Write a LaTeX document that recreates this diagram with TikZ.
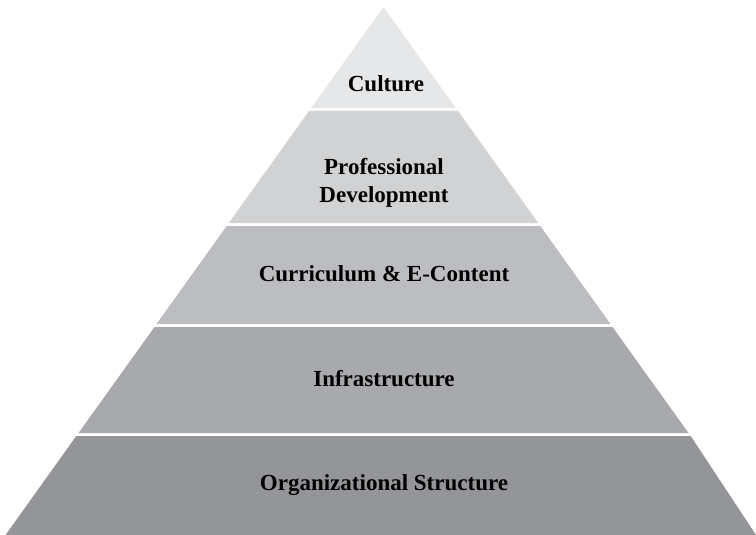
\documentclass[tikz,border=0pt]{standalone}
\usepackage{fontspec}
\setmainfont{Liberation Serif}
\definecolor{c1}{HTML}{E6E7E8}
\definecolor{c2}{HTML}{D1D2D4}
\definecolor{c3}{HTML}{BCBDC0}
\definecolor{c4}{HTML}{A7A9AC}
\definecolor{c5}{HTML}{939598}
\tikzset{
  layer/.style={draw=none},
  lbl/.style={font=\bfseries\fontsize{23}{28}\selectfont, text=black, align=center, inner sep=0pt}
}
\begin{document}
\begin{tikzpicture}[x=1pt,y=-1pt]
\useasboundingbox (0,0) rectangle (756,535);
\fill[layer, c1] (383.5,7) -- (455.8,108) -- (311.2,108) -- cycle;
\fill[layer, c2] (309,111) -- (458,111) -- (538.2,223) -- (228.8,223) -- cycle;
\fill[layer, c3] (226.7,226) -- (540.3,226) -- (610.5,324) -- (156.5,324) -- cycle;
\fill[layer, c4] (154.5,327) -- (612.5,327) -- (688.5,433) -- (78.5,433) -- cycle;
\fill[layer, c5] (76.3,436) -- (690.7,436) -- (756,535) -- (5.5,535) -- cycle;
\node[lbl, anchor=base] (culture) at (386,92) {Culture};
\node[lbl] (pd) at (384,182.5) {Professional\\Development};
\node[lbl, anchor=base] (cur) at (384,281) {Curriculum \& E-Content};
\node[lbl, anchor=base] (inf) at (384,386) {Infrastructure};
\node[lbl, anchor=base] (org) at (384,490) {Organizational Structure};
\end{tikzpicture}
\end{document}
